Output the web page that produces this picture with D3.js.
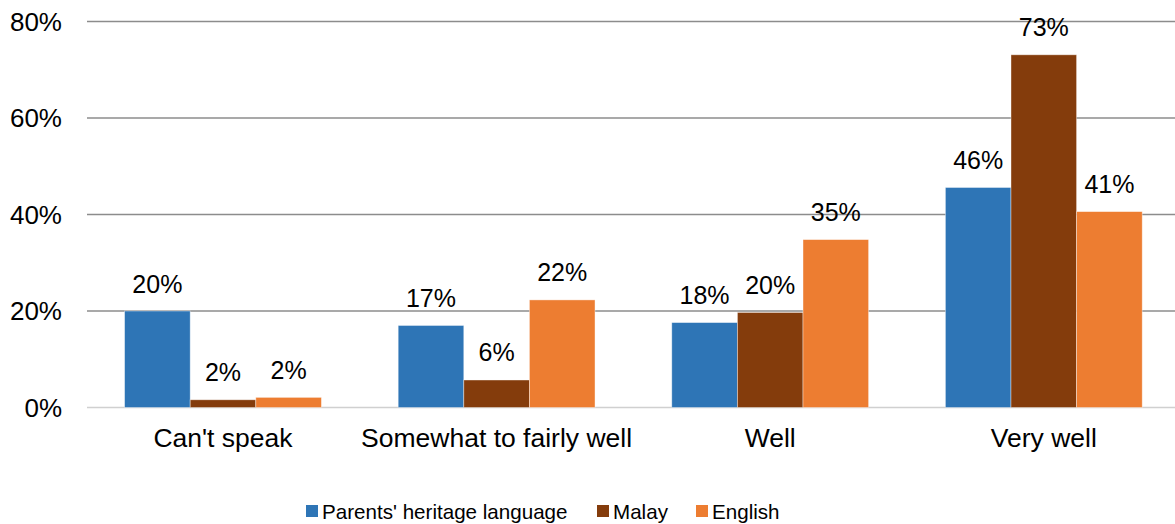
<!DOCTYPE html>
<html>
<head>
<meta charset="utf-8">
<script src="https://cdn.jsdelivr.net/npm/d3@7"></script>
<style>
  body { margin: 0; background: #fff; }
  text { font-family: "Liberation Sans", Arial, sans-serif; fill: #000; }
</style>
</head>
<body>
<div id="chart"></div>
<script>
// Data
const categories = ["Can't speak", "Somewhat to fairly well", "Well", "Very well"];
const seriesNames = ["Parents' heritage language", "Malay", "English"];
const heritage = [20.0, 17.0, 17.6, 45.6];
const malay = [1.6, 5.7, 19.7, 73.1];
const english = [2.1, 22.3, 34.8, 40.6];
const yTicks = [0, 20, 40, 60, 80];
const colors = ["#2e75b6", "#843c0c", "#ed7d31"];

const width = 1175;
const height = 524;
const margin = { top: 21.5, bottom: 116.5, left: 86.2 };

const svg = d3.select("#chart")
    .append("svg")
    .attr("width", width)
    .attr("height", height);

// plot area runs a little past the right edge of the window
const x = d3.scaleBand()
    .domain(categories)
    .range([margin.left, 1180.6]);

const xInner = d3.scaleBand()
    .domain(seriesNames)
    .range([0, x.bandwidth()])
    .paddingOuter(0.585);

const y = d3.scaleLinear()
    .domain([0, 80])
    .range([height - margin.bottom, margin.top]);

// Gridlines
svg.append("g")
    .selectAll("line")
    .data(yTicks)
    .join("line")
    .attr("x1", 87)
    .attr("x2", width)
    .attr("y1", d => y(d))
    .attr("y2", d => y(d))
    .attr("stroke", d => d === 0 ? "#d0d0d0" : "#8c8c8c")
    .attr("stroke-width", 1.5);

// Y tick labels
svg.append("g")
    .selectAll("text")
    .data(yTicks)
    .join("text")
    .attr("x", 62)
    .attr("y", d => y(d))
    .attr("dy", "0.35em")
    .attr("text-anchor", "end")
    .style("font-size", "26px")
    .text(d => d + "%");

// Bars
const allSeries = [heritage, malay, english];
const rows = [];
categories.forEach((c, i) => {
    seriesNames.forEach((s, j) => {
        rows.push({ cat: c, series: s, idx: j, value: allSeries[j][i] });
    });
});

const groups = svg.append("g");
groups.selectAll("rect")
    .data(rows)
    .join("rect")
    .attr("x", d => x(d.cat) + xInner(d.series))
    .attr("y", d => y(d.value))
    .attr("width", xInner.bandwidth())
    .attr("height", d => y(0) - y(d.value))
    .attr("fill", d => colors[d.idx])
    .attr("stroke", "#fff")
    .attr("stroke-opacity", 0.5)
    .attr("stroke-width", 0.8);

// Value labels
groups.selectAll("text")
    .data(rows)
    .join("text")
    .attr("x", d => x(d.cat) + xInner(d.series) + xInner.bandwidth() / 2)
    .attr("y", d => y(d.value) - 18.5)
    .attr("text-anchor", "middle")
    .style("font-size", "25px")
    .text(d => Math.round(d.value) + "%");

// Category labels
svg.append("g")
    .selectAll("text")
    .data(categories)
    .join("text")
    .attr("x", d => x(d) + x.bandwidth() / 2)
    .attr("y", 447)
    .attr("text-anchor", "middle")
    .style("font-size", "26.5px")
    .text(d => d);

// Legend
const legendX = [306, 597, 696];
const legend = svg.append("g")
    .selectAll("g")
    .data(seriesNames)
    .join("g")
    .attr("transform", (d, i) => `translate(${legendX[i]},505)`);

legend.append("rect")
    .attr("width", 12)
    .attr("height", 12)
    .attr("fill", (d, i) => colors[i]);

legend.append("text")
    .attr("x", 16)
    .attr("y", 13.5)
    .style("font-size", "20.6px")
    .text(d => d);
</script>
</body>
</html>
